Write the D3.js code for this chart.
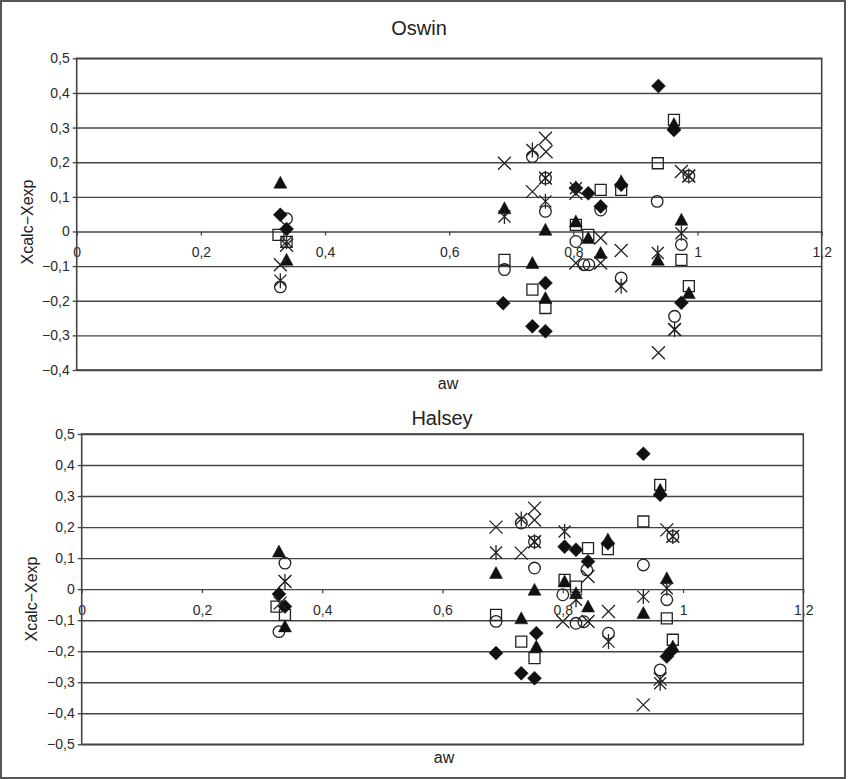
<!DOCTYPE html>
<html>
<head>
<meta charset="utf-8">
<script src="https://cdn.jsdelivr.net/npm/d3@7.9.0/dist/d3.min.js"></script>
<style>
  body { margin: 0; background: #fff; }
  svg { display: block; font-family: "Liberation Sans", Arial, sans-serif; }
  .tick text { fill: #2a2a2a; font-size: 14px; }
</style>
</head>
<body>
<div id="chart"></div>
<script>
// ---------------- DATA: [aw, Xcalc - Xexp] ----------------

const oswinDiamond = [[0.328, 0.048], [0.338, 0.007], [0.687, -0.207], [0.734, -0.274], [0.755, -0.288],
  [0.755, -0.149], [0.804, 0.125], [0.824, 0.11], [0.844, 0.072], [0.877, 0.135], [0.937, 0.42],
  [0.962, 0.293], [0.974, -0.206]];
const oswinTriangle = [[0.328, 0.141], [0.338, -0.082], [0.689, 0.067], [0.734, -0.091], [0.755, 0.005],
  [0.755, -0.192], [0.804, 0.029], [0.824, -0.019], [0.844, -0.062], [0.877, 0.145], [0.936, -0.082],
  [0.962, 0.31], [0.974, 0.034], [0.986, -0.178]];
const oswinSquare = [[0.325, -0.01], [0.338, -0.03], [0.689, -0.082], [0.734, -0.168], [0.755, -0.221],
  [0.804, 0.019], [0.824, -0.01], [0.844, 0.12], [0.877, 0.12], [0.936, 0.197], [0.962, 0.322],
  [0.974, -0.082], [0.986, -0.158]];
const oswinCircle = [[0.338, 0.037], [0.328, -0.16], [0.689, -0.11], [0.734, 0.216], [0.755, 0.058],
  [0.755, 0.154], [0.804, -0.029], [0.817, -0.096], [0.825, -0.096], [0.844, 0.062], [0.877, -0.134],
  [0.935, 0.087], [0.974, -0.038], [0.963, -0.245], [0.986, 0.16]];
const oswinCross = [[0.328, -0.096], [0.338, -0.04], [0.689, 0.197], [0.755, 0.269], [0.756, 0.23],
  [0.734, 0.115], [0.755, 0.154], [0.804, 0.11], [0.844, -0.019], [0.877, -0.055], [0.804, -0.091],
  [0.844, -0.091], [0.937, -0.35], [0.974, 0.173], [0.986, 0.16], [0.963, -0.283]];
const oswinStar = [[0.328, -0.142], [0.338, -0.03], [0.689, 0.043], [0.734, 0.235], [0.755, 0.154],
  [0.755, 0.087], [0.804, 0.125], [0.877, -0.158], [0.936, -0.062], [0.974, -0.005], [0.986, 0.16],
  [0.963, -0.283]];

const halseyDiamond = [[0.328, -0.016], [0.338, -0.056], [0.689, -0.206], [0.731, -0.271], [0.753, -0.287],
  [0.756, -0.142], [0.803, 0.137], [0.822, 0.127], [0.842, 0.089], [0.875, 0.148], [0.934, 0.436],
  [0.962, 0.304], [0.973, -0.217], [0.98, -0.2]];
const halseyTriangle = [[0.328, 0.121], [0.338, -0.12], [0.689, 0.052], [0.731, -0.094], [0.753, -0.002],
  [0.756, -0.185], [0.803, 0.025], [0.822, -0.013], [0.842, -0.056], [0.875, 0.16], [0.934, -0.077],
  [0.962, 0.32], [0.973, 0.035], [0.983, -0.185]];
const halseySquare = [[0.324, -0.056], [0.338, -0.083], [0.689, -0.083], [0.731, -0.169], [0.753, -0.222],
  [0.803, 0.03], [0.822, 0.008], [0.842, 0.132], [0.875, 0.129], [0.934, 0.218], [0.962, 0.336],
  [0.973, -0.094], [0.983, -0.163]];
const halseyCircle = [[0.338, 0.084], [0.328, -0.137], [0.689, -0.104], [0.731, 0.213], [0.753, 0.068],
  [0.753, 0.153], [0.800, -0.018], [0.822, -0.11], [0.835, -0.105], [0.840, 0.062], [0.876, -0.142],
  [0.934, 0.078], [0.973, -0.034], [0.962, -0.26], [0.983, 0.17]];
const halseyCross = [[0.338, 0.025], [0.33, -0.045], [0.689, 0.2], [0.753, 0.261], [0.753, 0.223],
  [0.731, 0.116], [0.753, 0.153], [0.842, 0.041], [0.800, -0.104], [0.842, -0.104], [0.876, -0.072],
  [0.934, -0.373], [0.973, 0.191], [0.983, 0.17], [0.962, -0.29]];
const halseyStar = [[0.338, 0.025], [0.689, 0.118], [0.731, 0.226], [0.753, 0.153], [0.803, 0.186],
  [0.822, -0.034], [0.876, -0.169], [0.934, -0.024], [0.973, 0.003], [0.983, 0.17], [0.962, -0.303]];

const xTicks = [0, 0.2, 0.4, 0.6, 0.8, 1, 1.2];

// ---------------- MARKERS ----------------

const INK = "#111";

function markerPath(shape) {
  switch (shape) {
    case "diamond": return "M0,-7L7,0L0,7L-7,0Z";
    case "triangle": return "M0,-6.5L6.5,5.5L-6.5,5.5Z";
    case "square": return "M-5.5,-5.5H5.5V5.5H-5.5Z";
    case "circle": return "M5.8,0A5.8,5.8 0 1 1 -5.8,0A5.8,5.8 0 1 1 5.8,0Z";
    case "cross": return "M-6.5,-6.5L6.5,6.5M6.5,-6.5L-6.5,6.5";
    case "star": return "M-6,-6L6,6M6,-6L-6,6M0,-7.5V7.5";
  }
}

const filled = { diamond: true, triangle: true };

// ---------------- PANEL ----------------

function fmt(d) {
  if (Math.abs(d) < 1e-9) return "0";
  return d3.format(".1~f")(d).replace(".", ",").replace("-", "\u2212");
}

function renderPanel(svg, cfg) {
  const x = d3.scaleLinear().domain([0, 1.2]).range([cfg.left, cfg.right]);
  const y = d3.scaleLinear().domain(cfg.yDomain).range([cfg.bottom, cfg.top]);
  const w = cfg.right - cfg.left;
  const nTicks = Math.round((cfg.yDomain[1] - cfg.yDomain[0]) * 10);

  const g = svg.append("g");

  // y axis labels + small outer ticks
  const yAxis = g.append("g")
    .attr("transform", `translate(${cfg.left},0)`)
    .call(d3.axisLeft(y)
      .ticks(nTicks)
      .tickSize(4)
      .tickPadding(3)
      .tickFormat(fmt));
  yAxis.select(".domain").remove();
  yAxis.selectAll(".tick line").attr("stroke", "#444").attr("stroke-width", 1.3);

  // gridlines
  g.append("g")
    .attr("transform", `translate(${cfg.left},0)`)
    .call(d3.axisLeft(y)
      .ticks(nTicks)
      .tickSize(-w)
      .tickFormat(""))
    .call(s => s.select(".domain").remove())
    .selectAll(".tick line")
    .attr("stroke", "#444")
    .attr("stroke-width", 1.4);

  // x axis sits on the zero line
  const xAxis = g.append("g")
    .attr("transform", `translate(0,${y(0)})`)
    .call(d3.axisBottom(x)
      .tickValues(xTicks)
      .tickSize(4)
      .tickPadding(12)
      .tickFormat(fmt));
  xAxis.select(".domain").remove();
  xAxis.selectAll(".tick line").attr("stroke", "#444").attr("stroke-width", 1.3);

  // plot frame
  g.append("rect")
    .attr("x", cfg.left).attr("y", cfg.top)
    .attr("width", w).attr("height", cfg.bottom - cfg.top)
    .attr("fill", "none")
    .attr("stroke", "#444")
    .attr("stroke-width", 1.6);

  // titles
  g.append("text")
    .attr("x", cfg.titleX).attr("y", cfg.titleY)
    .attr("text-anchor", "middle")
    .attr("font-size", 20).attr("fill", "#222")
    .text(cfg.title);

  g.append("text")
    .attr("x", cfg.awX).attr("y", cfg.awY)
    .attr("text-anchor", "middle")
    .attr("font-size", 16).attr("fill", "#222")
    .text("aw");

  g.append("text")
    .attr("transform", `translate(${cfg.ylabX},${cfg.ylabY}) rotate(-90)`)
    .attr("text-anchor", "middle")
    .attr("font-size", 16).attr("fill", "#222")
    .text("Xcalc\u2212Xexp");

  // series
  const marks = g.append("g");
  cfg.series.forEach(([shape, pts]) => {
    marks.append("g")
      .selectAll("path")
      .data(pts)
      .join("path")
      .attr("transform", d => `translate(${x(d[0])},${y(d[1])})`)
      .attr("d", markerPath(shape))
      .attr("fill", filled[shape] ? INK : "none")
      .attr("stroke", filled[shape] ? INK : "#222")
      .attr("stroke-width", filled[shape] ? 0.5 : 1.3);
  });
}

// ---------------- MAIN ----------------

const svg = d3.select("#chart")
  .append("svg")
  .attr("width", 850)
  .attr("height", 779);

svg.append("rect")
  .attr("x", 1).attr("y", 1)
  .attr("width", 844).attr("height", 777)
  .attr("fill", "#fff")
  .attr("stroke", "#555")
  .attr("stroke-width", 2);

renderPanel(svg, {
  title: "Oswin",
  left: 76.7, right: 821.7, top: 58.3, bottom: 370,
  yDomain: [-0.4, 0.5],
  titleX: 419, titleY: 35,
  awX: 448, awY: 389,
  ylabX: 33, ylabY: 222,
  series: [["square", oswinSquare], ["circle", oswinCircle], ["diamond", oswinDiamond],
    ["triangle", oswinTriangle], ["cross", oswinCross], ["star", oswinStar]]
});

renderPanel(svg, {
  title: "Halsey",
  left: 81.7, right: 803.3, top: 434, bottom: 744.3,
  yDomain: [-0.5, 0.5],
  titleX: 442, titleY: 425,
  awX: 444, awY: 763,
  ylabX: 37, ylabY: 599,
  series: [["square", halseySquare], ["circle", halseyCircle], ["diamond", halseyDiamond],
    ["triangle", halseyTriangle], ["cross", halseyCross], ["star", halseyStar]]
});
</script>
</body>
</html>
